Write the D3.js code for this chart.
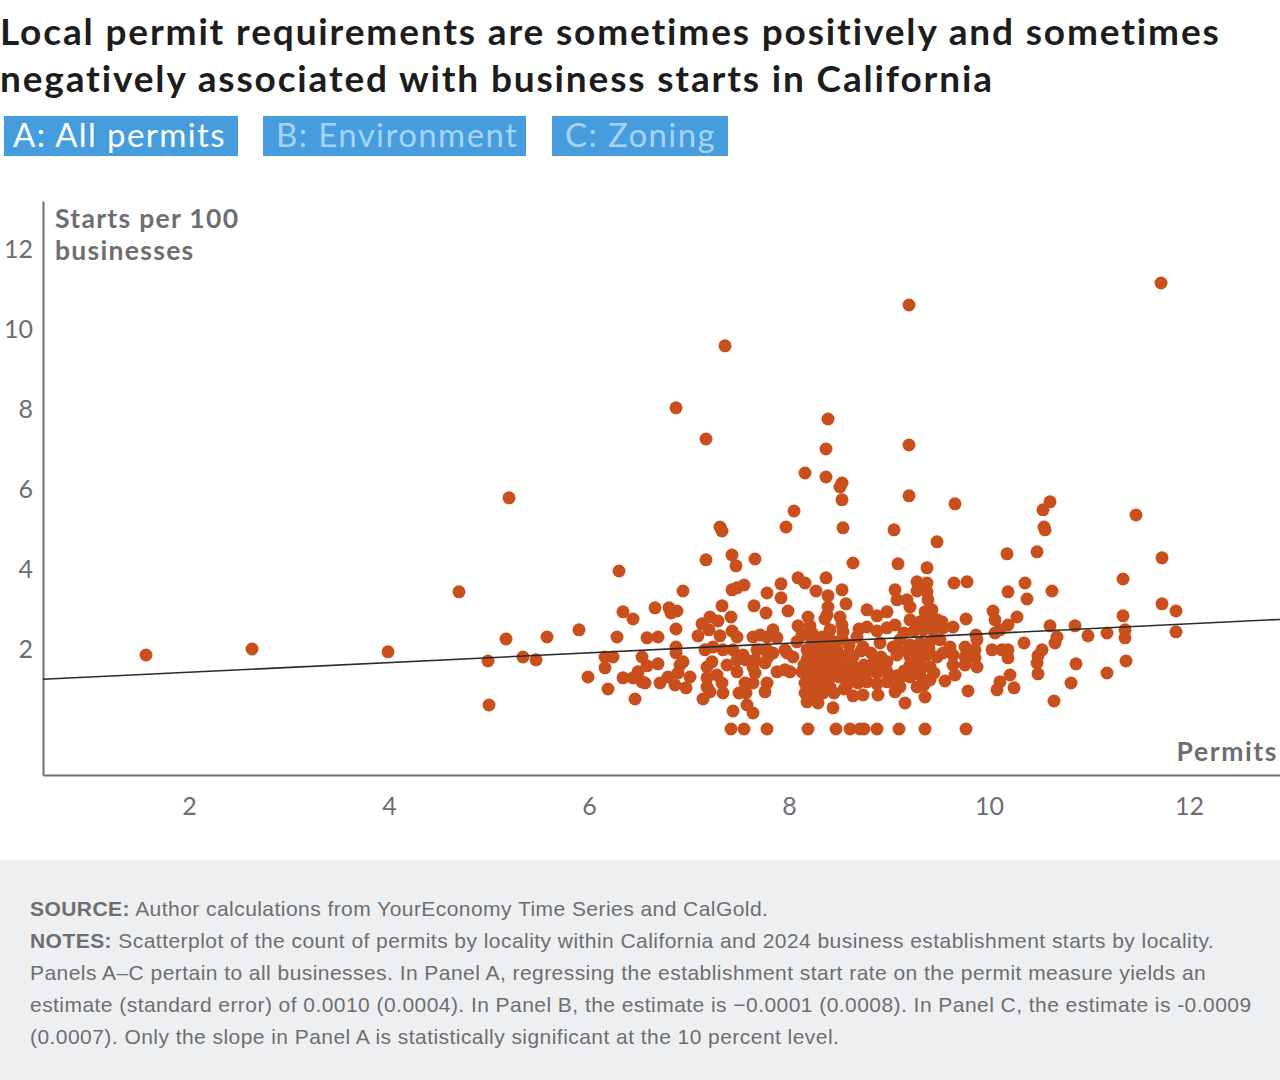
<!DOCTYPE html>
<html>
<head>
<meta charset="utf-8">
<script src="https://cdn.jsdelivr.net/npm/d3@7"></script>
<style>
  html, body { margin: 0; padding: 0; background: #fff; }
  svg { display: block; }
</style>
</head>
<body>
<svg id="chart" width="1280" height="1080"></svg>
<script>
// chart text
var titleLines = [
  "Local permit requirements are sometimes positively and sometimes",
  "negatively associated with business starts in California"
];
var panelTabs = ["A: All permits", "B: Environment", "C: Zoning"];
var yAxisTitle = ["Starts per 100", "businesses"];
var xAxisTitle = "Permits";
var xTicks = [2, 4, 6, 8, 10, 12];
var yTicks = [2, 4, 6, 8, 10, 12];

// fitted line for panel A (intercept, slope)
var fitLine = [1.177, 0.121];

// [permits, starts per 100 businesses] by locality
var localities = [
  [1.57,1.85],[2.63,2.0],[3.99,1.93],[4.70,3.43],[5.20,5.78],[4.99,1.7],[5.0,0.6],
  [5.17,2.25],[5.34,1.8],[5.47,1.73],[5.58,2.3],[5.90,2.48],[5.99,1.3],
  [6.30,3.95],[7.17,4.23],[7.43,4.35],[7.47,4.08],[6.94,3.45],[7.43,3.48],[7.48,3.53],
  [6.34,2.93],[6.44,2.75],[6.66,3.03],[6.80,3.03],[6.88,2.95],[6.82,2.9],[7.33,3.08],
  [7.42,2.8],[7.13,2.63],[7.21,2.8],[7.29,2.7],[7.20,2.48],[6.28,2.3],[6.58,2.28],
  [6.69,2.3],[6.87,2.5],[7.09,2.33],[7.31,2.33],[7.43,2.45],[7.48,2.3],[6.87,2.05],
  [6.87,1.9],[7.16,1.98],[7.24,2.05],[7.34,1.98],[7.44,1.98],[6.16,1.8],[6.24,1.8],
  [6.53,1.8],[6.16,1.53],[6.58,1.58],[6.49,1.43],[6.69,1.63],[6.91,1.6],[6.94,1.68],
  [7.18,1.55],[7.23,1.68],[7.38,1.6],[7.48,1.73],[6.34,1.28],[6.44,1.28],[6.53,1.18],
  [6.56,1.15],[6.71,1.15],[6.79,1.3],[6.89,1.4],[7.01,1.3],[7.18,1.28],[7.28,1.35],
  [7.33,1.15],[7.48,1.43],[6.19,1.0],[6.86,1.1],[6.97,1.03],[7.18,1.05],[7.21,0.93],
  [7.34,0.9],[6.46,0.75],[7.14,0.75],[7.44,0.45],[7.50,0.9],
  [7.66,4.25],[8.64,4.15],[9.09,4.13],[7.55,3.6],[7.92,3.63],[8.09,3.78],[8.16,3.65],
  [8.37,3.78],[8.27,3.45],[8.39,3.33],[8.53,3.48],[7.78,3.4],[7.92,3.28],[7.65,3.08],
  [7.77,2.9],[7.99,2.95],[8.57,3.13],[8.39,3.05],[8.38,2.85],[8.19,2.8],[8.21,2.58],
  [8.36,2.75],[8.51,2.8],[8.53,2.6],[8.78,2.98],[8.88,2.83],[8.98,2.93],[9.06,3.48],
  [9.08,3.23],[8.09,2.58],[7.84,2.48],[7.64,2.3],[7.71,2.35],[7.78,2.3],[7.88,2.28],
  [8.41,2.48],[8.54,2.43],[8.78,2.55],[8.88,2.45],[8.98,2.53],[9.06,2.6],[8.08,2.18],
  [8.23,2.23],[8.33,2.23],[7.96,1.98],[7.54,1.85],[7.68,1.98],[7.78,1.98],[7.84,1.9],
  [8.18,1.98],[8.28,2.0],[8.38,1.95],[8.48,1.98],[8.74,2.05],[8.91,2.15],[9.04,2.05],
  [7.57,1.73],[7.66,1.73],[7.76,1.65],[7.79,1.8],[7.98,1.9],[8.04,1.8],[8.64,1.8],
  [8.51,1.73],[8.38,1.65],[8.28,1.68],[8.18,1.73],[8.98,1.68],[9.08,1.85],[8.84,1.65],
  [7.64,1.55],[7.66,1.4],[7.88,1.43],[7.96,1.48],[8.01,1.43],[8.13,1.43],[8.18,1.53],
  [8.28,1.48],[8.38,1.4],[8.48,1.43],[8.58,1.43],[8.66,1.53],[8.78,1.43],[8.88,1.4],
  [8.98,1.43],[9.08,1.33],[7.56,1.15],[7.64,1.15],[7.78,1.15],[7.76,0.93],[8.16,1.15],
  [8.26,1.15],[8.36,1.15],[8.41,1.05],[8.58,1.1],[8.69,1.15],[8.78,1.18],[8.88,1.13],
  [8.98,1.18],[9.08,1.05],[7.57,0.9],[8.16,0.9],[8.26,0.85],[8.34,0.9],[8.64,0.83],
  [8.74,0.85],[8.89,0.85],[9.06,0.93],[7.58,0.6],[7.64,0.4],[8.18,0.68],[8.29,0.65],
  [8.44,0.53],
  [8.13,2.35],[8.23,2.4],[8.33,2.3],[8.43,2.2],[8.53,2.25],[8.2,1.85],[8.3,1.8],
  [8.4,1.75],[8.5,1.85],[8.6,1.9],[8.15,1.6],[8.25,1.58],[8.35,1.55],[8.45,1.6],
  [8.55,1.6],[8.2,1.3],[8.3,1.28],[8.4,1.25],[8.5,1.3],[8.6,1.25],[8.7,1.35],
  [8.22,1.0],[8.32,0.98],[8.45,0.9],[8.55,1.0],[8.68,2.3],[8.72,1.95],[8.82,1.9],
  [8.92,1.8],[8.75,1.6],[8.95,1.55],[8.6,2.1],[8.7,2.5],
  [7.42,0],[7.55,0],[7.78,0],[8.19,0],[8.47,0],[8.61,0],[8.71,0],[8.75,0],[8.88,0],
  [9.10,0],[9.36,0],[9.77,0],
  [9.48,4.68],[10.18,4.38],[10.48,4.43],[9.38,4.03],[9.28,3.68],[9.38,3.65],[9.28,3.45],
  [9.38,3.43],[9.65,3.65],[9.78,3.68],[10.19,3.43],[10.36,3.65],[10.38,3.25],[10.63,3.45],
  [9.18,3.23],[9.21,3.05],[9.39,3.23],[9.43,2.98],[9.36,2.93],[10.04,2.95],[10.06,2.73],
  [10.28,2.8],[10.61,2.58],[10.68,2.3],[9.21,2.73],[9.31,2.68],[9.38,2.73],[9.48,2.73],
  [9.53,2.68],[9.77,2.75],[9.64,2.55],[9.87,2.35],[9.88,2.23],[10.06,2.4],[10.11,2.48],
  [10.19,2.6],[9.34,2.48],[9.44,2.48],[9.54,2.53],[9.11,2.23],[9.21,2.1],[9.31,2.15],
  [9.41,2.18],[9.51,2.23],[9.61,2.05],[9.76,2.05],[9.86,1.98],[10.03,1.98],[10.13,1.98],
  [10.19,1.98],[10.19,1.78],[10.35,2.15],[10.53,1.98],[10.49,1.83],[10.48,1.65],
  [10.49,1.38],[10.66,2.15],[9.21,1.8],[9.31,1.73],[9.38,1.85],[9.48,1.8],[9.54,1.9],
  [9.64,1.85],[9.76,1.8],[9.86,1.78],[9.21,1.6],[9.31,1.53],[9.41,1.55],[9.64,1.6],
  [9.76,1.6],[9.88,1.55],[9.11,1.28],[9.21,1.3],[9.31,1.35],[9.41,1.23],[9.56,1.2],
  [9.66,1.35],[10.21,1.35],[10.11,1.18],[10.08,0.98],[10.25,1.03],[9.79,0.95],
  [9.11,1.05],[9.28,1.05],[9.16,0.65],[9.36,0.8],[10.65,0.7],
  [9.15,2.4],[9.25,2.45],[9.1,1.95],[9.2,2.0],[9.3,1.95],[9.4,2.0],[9.15,1.45],
  [9.25,1.5],[9.35,1.1],[9.45,1.4],
  [10.61,5.68],[10.54,5.48],[10.55,5.05],[10.56,4.98],[11.47,5.35],[11.73,4.28],
  [11.34,3.75],[11.73,3.13],[11.87,2.95],[11.34,2.83],[10.86,2.58],[10.99,2.33],
  [11.18,2.4],[11.36,2.48],[11.36,2.28],[11.87,2.43],[10.87,1.63],[11.37,1.7],
  [11.18,1.4],[10.82,1.15],
  [6.87,8.03],[7.36,9.58],[7.17,7.25],[9.20,10.6],[11.72,11.15],[8.39,7.75],[8.37,7.0],
  [9.20,7.1],[8.16,6.4],[8.37,6.3],[8.53,6.15],[8.51,6.05],[8.53,5.73],[9.20,5.83],
  [9.66,5.63],[8.05,5.45],[7.31,5.05],[7.33,4.95],[7.97,5.05],[8.54,5.03],[9.05,4.98]
];

var notes = [
  [["SOURCE:", true], [" Author calculations from YourEconomy Time Series and CalGold.", false]],
  [["NOTES:", true], [" Scatterplot of the count of permits by locality within California and 2024 business establishment starts by locality.", false]],
  [["Panels A\u2013C pertain to all businesses. In Panel A, regressing the establishment start rate on the permit measure yields an", false]],
  [["estimate (standard error) of 0.0010 (0.0004). In Panel B, the estimate is \u22120.0001 (0.0008). In Panel C, the estimate is -0.0009", false]],
  [["(0.0007). Only the slope in Panel A is statistically significant at the 10 percent level.", false]]
];

var grey = "#6d6e71";
var dotColor = "#c94f1d";
var font = "Lato, 'Open Sans', sans-serif";

var svg = d3.select("#chart");

// title
svg.append("g").selectAll("text")
  .data(titleLines)
  .enter().append("text")
    .attr("x", 0)
    .attr("y", function(d, i) { return 45 + i * 47; })
    .attr("font-family", font)
    .attr("font-weight", 700)
    .attr("font-size", 37)
    .attr("letter-spacing", 1.85)
    .attr("fill", "#1d1d1d")
    .text(function(d) { return d; });

// panel tabs
var tabX = [4, 263, 552];
var tabW = [234, 263, 176];
var tabs = svg.append("g").selectAll("g")
  .data(panelTabs)
  .enter().append("g")
    .attr("transform", function(d, i) { return "translate(" + tabX[i] + ",116)"; });
tabs.append("rect")
  .attr("width", function(d, i) { return tabW[i]; })
  .attr("height", 40)
  .attr("fill", "#459ddd");
tabs.append("text")
  .attr("x", function(d, i) { return i == 0 ? 9 : 13; })
  .attr("y", 31)
  .attr("font-family", font)
  .attr("font-size", 33)
  .attr("letter-spacing", 1.4)
  .attr("fill", function(d, i) { return i == 0 ? "#fff" : "#a5d3f5"; })
  .text(function(d) { return d; });

// scales
var x = d3.scaleLinear().domain([0.54, 12.91]).range([43, 1280]);
var y = d3.scaleLinear().domain([-1.15, 13.2]).range([775, 201]);

// axes
var xAxis = svg.append("g")
  .attr("transform", "translate(0," + y(-1.15) + ")")
  .call(d3.axisBottom(x).tickValues(xTicks).tickSize(0).tickPadding(22).tickFormat(d3.format("d")));
var yAxis = svg.append("g")
  .attr("transform", "translate(" + x(0.54) + ",0)")
  .call(d3.axisLeft(y).tickValues(yTicks).tickSize(0).tickPadding(10).tickFormat(d3.format("d")));

[xAxis, yAxis].forEach(function(ax) {
  ax.select(".domain").attr("stroke", grey).attr("stroke-width", 2);
  ax.selectAll("text")
    .attr("font-family", font)
    .attr("font-size", 25)
    .attr("fill", grey);
});

// axis titles
svg.append("g").selectAll("text")
  .data(yAxisTitle)
  .enter().append("text")
    .attr("x", 55)
    .attr("y", function(d, i) { return 228 + i * 32; })
    .attr("font-family", font)
    .attr("font-weight", 700)
    .attr("font-size", 26.5)
    .attr("letter-spacing", 1.3)
    .attr("fill", grey)
    .text(function(d) { return d; });

svg.append("text")
  .attr("x", 1278)
  .attr("y", 761)
  .attr("text-anchor", "end")
  .attr("font-family", font)
  .attr("font-weight", 700)
  .attr("font-size", 26.5)
  .attr("letter-spacing", 1.6)
  .attr("fill", grey)
  .text(xAxisTitle);

// dots
svg.append("g").selectAll("circle")
  .data(localities)
  .enter().append("circle")
    .attr("cx", function(d) { return x(d[0]); })
    .attr("cy", function(d) { return y(d[1]); })
    .attr("r", 6.5)
    .attr("fill", dotColor);

// regression line
var xEnds = x.domain();
svg.append("line")
  .attr("x1", x(xEnds[0]))
  .attr("y1", y(fitLine[0] + fitLine[1] * xEnds[0]))
  .attr("x2", x(xEnds[1]))
  .attr("y2", y(fitLine[0] + fitLine[1] * xEnds[1]))
  .attr("stroke", "#2b2b2b")
  .attr("stroke-width", 1.6);

// notes box
svg.append("rect")
  .attr("x", 0).attr("y", 860)
  .attr("width", 1280).attr("height", 220)
  .attr("fill", "#eeeff1");

var noteText = svg.append("g").selectAll("text")
  .data(notes)
  .enter().append("text")
    .attr("x", 30)
    .attr("y", function(d, i) { return 916 + i * 32; })
    .attr("font-family", "'Liberation Sans', Arial, sans-serif")
    .attr("font-size", 21)
    .attr("letter-spacing", 0.45)
    .attr("fill", grey);
noteText.selectAll("tspan")
  .data(function(d) { return d; })
  .enter().append("tspan")
    .attr("font-weight", function(d) { return d[1] ? 700 : 400; })
    .text(function(d) { return d[0]; });
</script>
</body>
</html>
